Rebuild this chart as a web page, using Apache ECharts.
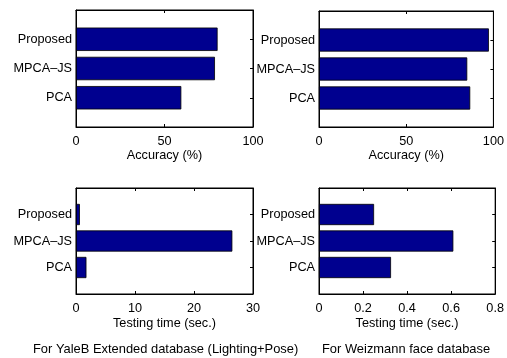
<!DOCTYPE html>
<html>
<head>
<meta charset="utf-8">
<script src="https://cdn.jsdelivr.net/npm/echarts@6/dist/echarts.min.js"></script>
<style>
  html, body { margin: 0; padding: 0; background: #fff; }
  #chart { width: 507px; height: 358px; }
</style>
</head>
<body>
<div id="chart"></div>
<script>
// Methods, listed bottom to top on each bar axis (padded with empty slots at both ends)
const methods = ['', 'PCA', 'MPCA–JS', 'Proposed', ''];

// Recognition accuracy (%)
const accuracyYaleB = [null, 59.5, 78.5, 80];
const accuracyWeizmann = [null, 86.7, 85, 97.4];

// Testing time (sec.)
const timeYaleB = [null, 1.77, 26.5, 0.66];
const timeWeizmann = [null, 0.327, 0.61, 0.25];

// Axis ranges and tick steps
const accuracyTicks = { min: 0, max: 100, interval: 50 };
const timeYaleBTicks = { min: 0, max: 30, interval: 10 };
const timeWeizmannTicks = { min: 0, max: 0.8, interval: 0.2 };

const captions = ['For YaleB Extended database (Lighting+Pose)', 'For Weizmann face database'];

const FONT = 'Liberation Sans, Arial, Helvetica, sans-serif';
const FS = 12.7;
const BAR_COLOR = '#00008f';

const gridBox = { show: true, borderColor: '#000', borderWidth: 1, backgroundColor: 'transparent' };
const grids = [
  Object.assign({ left: 76, top: 10, width: 177, height: 117 }, gridBox),
  Object.assign({ left: 319, top: 11, width: 177, height: 116 }, gridBox),
  Object.assign({ left: 76, top: 188, width: 177, height: 106 }, gridBox),
  Object.assign({ left: 319, top: 188, width: 177, height: 106 }, gridBox)
];

const panels = [
  { values: accuracyYaleB, ticks: accuracyTicks, name: 'Accuracy (%)', gap: 22 },
  { values: accuracyWeizmann, ticks: accuracyTicks, name: 'Accuracy (%)', gap: 22 },
  { values: timeYaleB, ticks: timeYaleBTicks, name: 'Testing time (sec.)', gap: 23 },
  { values: timeWeizmann, ticks: timeWeizmannTicks, name: 'Testing time (sec.)', gap: 23 }
];

const fmt = v => String(Math.round(v * 1000) / 1000);
const catTick = (i) => i >= 1 && i <= 3;
const tickStyle = { show: true, inside: true, length: 3, lineStyle: { color: '#000', width: 1 } };

const xAxis = [];
const yAxis = [];
const series = [];

panels.forEach((p, k) => {
  // bottom value axis with labels
  xAxis.push({
    type: 'value', gridIndex: k, position: 'bottom',
    min: p.ticks.min, max: p.ticks.max, interval: p.ticks.interval,
    name: p.name, nameLocation: 'middle', nameGap: p.gap,
    nameTextStyle: { fontFamily: FONT, fontSize: FS, color: '#000' },
    axisLine: { show: true, onZero: false, lineStyle: { color: '#000', width: 1 } },
    axisTick: tickStyle,
    axisLabel: { fontFamily: FONT, fontSize: FS, color: '#000', margin: 8, formatter: fmt },
    splitLine: { show: false }
  });
  // top mirror axis: ticks only
  xAxis.push({
    type: 'value', gridIndex: k, position: 'top',
    min: p.ticks.min, max: p.ticks.max, interval: p.ticks.interval,
    axisLine: { show: true, onZero: false, lineStyle: { color: '#000', width: 1 } },
    axisTick: tickStyle,
    axisLabel: { show: false },
    splitLine: { show: false }
  });
  // left category axis
  yAxis.push({
    type: 'category', gridIndex: k, position: 'left', data: methods, boundaryGap: false,
    axisLine: { show: true, onZero: false, lineStyle: { color: '#000', width: 1 } },
    axisTick: Object.assign({ interval: catTick }, tickStyle),
    axisLabel: { fontFamily: FONT, fontSize: FS, color: '#000', margin: 4, interval: catTick },
    splitLine: { show: false }
  });
  // right mirror axis: ticks only
  yAxis.push({
    type: 'category', gridIndex: k, position: 'right', data: methods, boundaryGap: false,
    axisLine: { show: true, onZero: false, lineStyle: { color: '#000', width: 1 } },
    axisTick: Object.assign({ interval: catTick }, tickStyle),
    axisLabel: { show: false },
    splitLine: { show: false }
  });
  series.push({
    type: 'bar',
    xAxisIndex: 2 * k,
    yAxisIndex: 2 * k,
    data: p.values,
    barWidth: '80%',
    itemStyle: { color: BAR_COLOR, borderColor: '#000', borderWidth: 0.8 },
    silent: true,
    animation: false
  });
});

const chart = echarts.init(document.getElementById('chart'), null, { renderer: 'canvas' });
chart.setOption({
  backgroundColor: '#fff',
  animation: false,
  grid: grids,
  xAxis: xAxis,
  yAxis: yAxis,
  series: series,
  graphic: [
    {
      type: 'text', left: 33, top: 343,
      style: { text: captions[0], fontFamily: FONT, fontSize: 12.9, fill: '#000' }
    },
    {
      type: 'text', left: 322, top: 343,
      style: { text: captions[1], fontFamily: FONT, fontSize: 12.9, fill: '#000' }
    }
  ]
});
</script>
</body>
</html>
